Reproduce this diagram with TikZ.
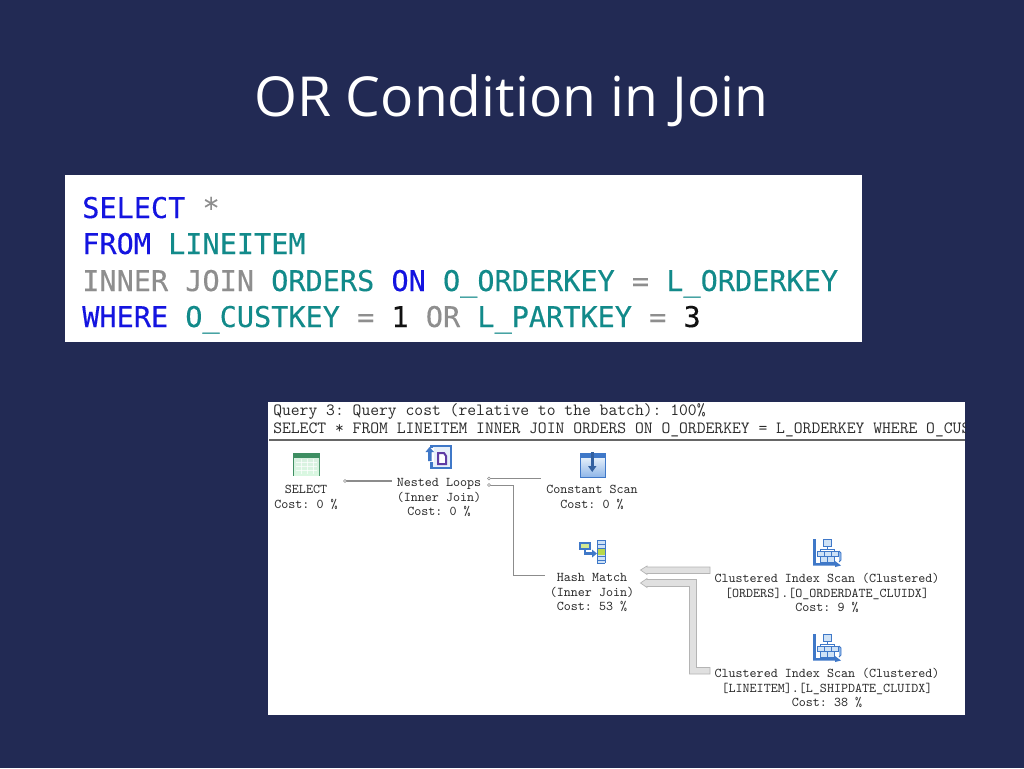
\documentclass[tikz,border=0pt]{standalone}
\usepackage{fontspec}
\setmainfont{Open Sans}
\newfontfamily\codefont[FakeBold=0.25]{DejaVu Sans Mono}
\definecolor{slidebg}{HTML}{222A54}
\definecolor{kw}{HTML}{1414E0}
\definecolor{obj}{HTML}{128A8A}
\definecolor{op}{HTML}{8E8E8E}
\definecolor{numc}{HTML}{111111}
\definecolor{plantext}{HTML}{2A2A2A}
\definecolor{conn}{HTML}{8C8C8C}
\definecolor{fat}{HTML}{E0E0E0}
\definecolor{fatedge}{HTML}{B4B4B4}
\definecolor{iconblue}{HTML}{3F78C8}
\definecolor{iconlight}{HTML}{CFE2F6}
\definecolor{iconmid}{HTML}{8FB6E8}
\definecolor{icongreen}{HTML}{3E8E62}
\definecolor{iconpale}{HTML}{BFE6CC}
\definecolor{hashgreen}{HTML}{B8D84A}
\tikzset{
  x=0.75pt,y=-0.75pt,
  title/.style={anchor=center,text=white,font=\fontsize{41.35pt}{48pt}\selectfont,inner sep=0},
  codeline/.style={anchor=base west,inner sep=0,font=\codefont\fontsize{21.4pt}{25pt}\selectfont},
  headline/.style={anchor=base west,inner sep=0,text=plantext,font=\ttfamily\fontsize{12.85pt}{14pt}\selectfont},
  oplabel/.style={align=center,inner sep=0,text=plantext,font=\ttfamily\fontsize{10.04pt}{10.95pt}\selectfont,anchor=north},
  thin conn/.style={draw=conn,line width=0.8pt},
  fat conn/.style={draw=fatedge,fill=fat,line width=0.5pt},
}
\newcommand{\kw}[1]{\textcolor{kw}{#1}}
\newcommand{\ob}[1]{\textcolor{obj}{#1}}
\newcommand{\opr}[1]{\textcolor{op}{#1}}
\newcommand{\nm}[1]{\textcolor{numc}{#1}}
\newcommand{\scanicon}[1]{%
  \begin{scope}[shift={(#1)}]
    \fill[iconblue] (-13,-14) rectangle (-10.5,12);
    \fill[iconblue] (-13,10) -- (9,10) -- (9,8) -- (15,12.5) -- (9,14) -- (9,12.5) -- (-13,12.5) -- cycle;
    \draw[iconblue,line width=0.6pt,fill=iconmid] (13,-2) -- (15,0) -- (15,7) -- (13,9);
    \draw[iconblue,line width=0.7pt,fill=iconlight] (-3,-14) rectangle (5,-7);
    \draw[iconblue,line width=0.6pt] (1,-7) -- (1,-4) (-6,-2) -- (-6,-4) (8,-2) -- (8,-4) (-6,-4) -- (8,-4);
    \foreach \p/\q in {-9/-2,-2/-2,5/-2,-6/3.5,1/3.5}{
      \draw[iconblue,line width=0.6pt,fill=iconlight] (\p,\q) rectangle ++(7,5.5);
    }
  \end{scope}}
\begin{document}
\begin{tikzpicture}
\frenchspacing
\useasboundingbox (0,0) rectangle (1024,768);
\fill[slidebg] (0,0) rectangle (1024,768);
\node[title] (ttl) at (511.5,101) {OR Condition in Join};

% code panel
\fill[white] (65,175) rectangle (862,342);
\node[codeline] (c1) at (82,218) {\kw{SELECT} \opr{*}};
\node[codeline] (c2) at (82,254) {\kw{FROM} \ob{LINEITEM}};
\node[codeline] (c3) at (82,291) {\opr{INNER JOIN} \ob{ORDERS} \kw{ON} \ob{O\_ORDERKEY} \opr{=} \ob{L\_ORDERKEY}};
\node[codeline] (c4) at (82,327) {\kw{WHERE} \ob{O\_CUSTKEY} \opr{=} \nm{1} \opr{OR} \ob{L\_PARTKEY} \opr{=} \nm{3}};

% plan panel
\fill[white] (268,402) rectangle (965,715);
\begin{scope}
  \clip (268,402) rectangle (965,715);
  \node[headline] (h1) at (273,415) {Query 3: Query cost (relative to the batch): 100\%};
  \node[headline] (h2) at (273,433.5) {SELECT * FROM LINEITEM INNER JOIN ORDERS ON O\_ORDERKEY = L\_ORDERKEY WHERE O\_CUSTKEY};
\end{scope}
\draw[draw=black!60,line width=0.9pt] (269,440) -- (965,440);

% labels
\node[oplabel] (sel) at (306,485) {SELECT\\Cost: 0 \%};
\node[oplabel] (nl) at (439,478) {Nested Loops\\(Inner Join)\\Cost: 0 \%};
\node[oplabel] (cs) at (592,485) {Constant Scan\\Cost: 0 \%};
\node[oplabel] (hm) at (592,573) {Hash Match\\(Inner Join)\\Cost: 53 \%};
\node[oplabel] (ci1) at (827,573) {Clustered Index Scan (Clustered)\\{[}ORDERS{]}.{[}O\_ORDERDATE\_CLUIDX{]}\\Cost: 9 \%};
\node[oplabel] (ci2) at (827,668) {Clustered Index Scan (Clustered)\\{[}LINEITEM{]}.{[}L\_SHIPDATE\_CLUIDX{]}\\Cost: 38 \%};

% thin connectors
\coordinate (a1) at (345,481);
\coordinate (a2) at (392,481);
\coordinate (b1) at (489,478.5);
\coordinate (b2) at (541,478.5);
\coordinate (c1p) at (489,485);
\coordinate (c2p) at (513,485);
\coordinate (c3p) at (513,575);
\coordinate (c4p) at (545,575);
\draw[thin conn] (a1) -- (a2);
\draw[thin conn] (b1) -- (b2);
\draw[thin conn,line width=0.6pt] (c1p) -- (c2p) -- (c3p) -- (c4p);
\foreach \c in {a1,b1,c1p}{\draw[conn,fill=white,line width=0.4pt] (\c) circle (1.5);}

% fat connectors
\path[fat conn] (640.5,570) -- (647,566) -- (647,567) -- (710,567) -- (710,573.5) -- (647,573.5) -- (647,574.5) -- cycle;
\path[fat conn] (640.5,583) -- (647,578.5) -- (647,579.5) -- (696.5,579.5) -- (696.5,667.5) -- (710,667.5) -- (710,674) -- (689.5,674) -- (689.5,586.5) -- (647,586.5) -- (647,587.5) -- cycle;

% SELECT icon
\fill[icongreen] (293,453) rectangle (320,476);
\shade[top color=iconpale!60,bottom color=iconpale!120!icongreen] (294,458) rectangle (319,475.5);
\foreach \yy in {462,466,470}{\draw[white,opacity=.7,line width=0.5pt] (296,\yy) -- (317,\yy);}
\foreach \xx in {301,307,313}{\draw[white,opacity=.7,line width=0.5pt] (\xx,459) -- (\xx,474);}

% Nested loops icon
\draw[iconblue,line width=1.7pt,fill=iconlight!50] (431.5,446) rectangle (451,468);
\fill[white] (427,448) rectangle (433.5,462);
\fill[iconblue] (429.5,447) -- (434,452) -- (431.5,452) -- (431.5,461) -- (428,461) -- (428,452) -- (425.5,452) -- cycle;
\draw[iconblue!50!violet,line width=1.5pt,fill=white] (438,453) -- (444,453) -- (446,456) -- (446,464) -- (438,464) -- cycle;

% Constant scan icon
\shade[top color=iconlight!60,bottom color=iconmid] (580,458) rectangle (605,477);
\fill[iconblue] (580,453) rectangle (605,458);
\draw[iconblue,line width=0.7pt] (580,453) rectangle (605,477);
\fill[iconblue!80!black] (591,451.5) rectangle (593.5,467);
\fill[iconblue!80!black] (592.2,472) -- (588,466) -- (596.5,466) -- cycle;

% Hash match icon
\fill[iconlight] (597,540) rectangle (605,563);
\foreach \yy in {540,544,548,552,556,560,563}{\draw[iconblue,line width=0.6pt] (597,\yy) -- (605,\yy);}
\draw[iconblue,line width=0.6pt] (597,540) -- (597,563) (605,540) -- (605,563);
\fill[hashgreen] (597.5,549) rectangle (604.5,555);
\draw[iconblue,line width=0.9pt,fill=hashgreen!60] (580,543) rectangle (590,549);
\draw[iconblue,line width=1.6pt] (585,549) -- (585,553.5) -- (593,553.5);
\fill[iconblue] (597,553.5) -- (592,549.5) -- (592,557.5) -- cycle;

\scanicon{826,553}
\scanicon{826,648}
\end{tikzpicture}
\end{document}
